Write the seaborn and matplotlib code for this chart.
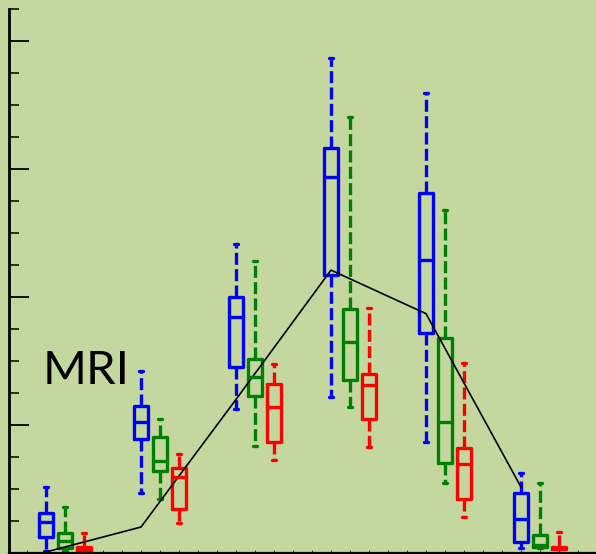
import numpy as np
import pandas as pd
import seaborn as sns
import matplotlib
matplotlib.use("Agg")
import matplotlib.pyplot as plt
from matplotlib.ticker import MultipleLocator, FixedLocator, NullFormatter

# Box statistics per time point: [low whisker, Q1, median, Q3, high whisker]
groups = [0, 1, 2, 3, 4, 5]
series = ["A", "B", "C"]
box_a = [
    [1.6, 12.5, 24.2, 31.3, 51.6],
    [46.9, 89.1, 102.3, 114.8, 142.2],
    [112.5, 145.3, 184.4, 200.0, 241.4],
    [121.9, 217.2, 293.8, 316.4, 386.7],
    [86.7, 171.9, 228.9, 281.3, 359.4],
    [3.9, 8.6, 26.6, 46.9, 62.5],
]
box_b = [
    [1.6, 3.9, 9.4, 15.6, 35.9],
    [42.2, 64.1, 71.9, 90.6, 104.7],
    [83.6, 122.7, 137.5, 151.6, 228.1],
    [114.1, 135.2, 164.8, 190.6, 340.6],
    [54.7, 70.3, 102.3, 168.0, 268.0],
    [3.9, 4.7, 6.3, 14.1, 54.7],
]
box_c = [
    [0.8, 1.6, 3.1, 4.7, 15.6],
    [23.4, 34.4, 59.4, 66.4, 77.3],
    [72.7, 86.7, 114.1, 132.0, 147.7],
    [82.8, 104.7, 131.3, 139.8, 191.4],
    [28.1, 42.2, 69.5, 82.0, 148.4],
    [3.1, 3.1, 3.9, 4.7, 16.4],
]
# Trend line through the first series
line_x = [-0.2, 0.8, 1.8, 2.8, 3.8, 4.8]
line_y = [0.8, 20.3, 120.0, 221.0, 187.0, 51.6]

colors = {"A": "#0000ff", "B": "#008000", "C": "#ff0000"}
bg = "#c4d79f"

rows = []
for name, boxes in zip(series, [box_a, box_b, box_c]):
    for g, vals in zip(groups, boxes):
        for v in vals:
            rows.append({"group": g, "series": name, "value": v})
df = pd.DataFrame(rows)
line_df = pd.DataFrame({"x": line_x, "y": line_y})

sns.set_style("white")
fig = plt.figure(figsize=(5.96, 5.54), dpi=100, facecolor=bg)
ax = fig.add_axes([9 / 596, 1 / 554, 1 - 9 / 596, 544 / 554])
ax.set_facecolor(bg)

sns.boxplot(
    data=df, x="group", y="value", hue="series",
    order=groups, hue_order=series, palette=colors,
    fill=False, saturation=1, whis=(0, 100), width=0.6, gap=0.26,
    linewidth=2.4, legend=False, ax=ax,
    whiskerprops=dict(linestyle=(0, (3.6, 1.3))),
    capwidths=0.05,
)

sns.lineplot(data=line_df, x="x", y="y", color="black", linewidth=1.2,
             sort=False, estimator=None, ax=ax)

ax.text(-0.235, 142, "MRI", fontsize=34, family="Lato", va="center", ha="left",
        color="black")

ax.set_xlim(-0.59, 5.59)
ax.set_ylim(0, 425)
ax.set_xlabel("")
ax.set_ylabel("")

ax.yaxis.set_major_locator(MultipleLocator(100))
ax.yaxis.set_minor_locator(MultipleLocator(25))
ax.yaxis.set_major_formatter(NullFormatter())
ax.xaxis.set_major_locator(FixedLocator(np.arange(-0.4, 5.61, 0.2)))
ax.xaxis.set_major_formatter(NullFormatter())
ax.tick_params(axis="y", which="major", direction="in", length=14.5, width=1.3,
               color="black", left=True)
ax.tick_params(axis="y", which="minor", direction="in", length=7.2, width=1.1,
               color="black", left=True)
ax.tick_params(axis="x", which="major", direction="in", length=2, width=0.8,
               color="#444444", bottom=True)

for side in ["top", "right"]:
    ax.spines[side].set_visible(False)
ax.spines["left"].set_linewidth(2.0)
ax.spines["left"].set_color("black")
ax.spines["bottom"].set_linewidth(1.6)
ax.spines["bottom"].set_color("black")

fig.savefig("out.png", dpi=100, facecolor=bg)
